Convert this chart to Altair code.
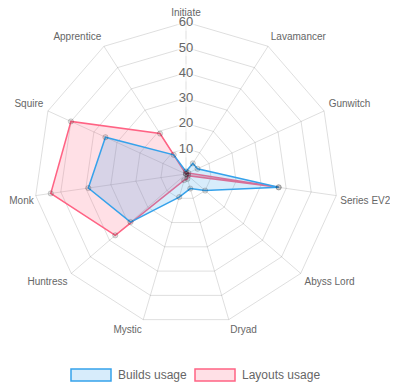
import altair as alt
import pandas as pd

categories = ["Initiate", "Lavamancer", "Gunwitch", "Series EV2", "Abyss Lord",
              "Dryad", "Mystic", "Huntress", "Monk", "Squire", "Apprentice"]
builds_usage = [1, 5, 5, 37, 10, 6, 9.5, 29, 39, 35, 9]
layouts_usage = [0, 0, 1, 37, 1, 2, 2.5, 37, 54, 50, 19]
tick_values = [10, 20, 30, 40, 50, 60]
series_names = ["Builds usage", "Layouts usage"]
line_colors = ["rgb(54,162,235)", "rgb(255,99,132)"]
fill_colors = ["rgba(54,162,235,0.2)", "rgba(255,99,132,0.2)"]

N = len(categories)
R_MAX = 60
FONT = "Liberation Sans"

# ---- data tables built from the arrays ----
rows = []
for name, vals in zip(series_names, [builds_usage, layouts_usage]):
    for i in range(N + 1):
        j = i % N
        rows.append({"series": name, "category": categories[j], "idx": i, "value": vals[j]})
series_df = pd.DataFrame(rows)

grid_rows = []
for t in tick_values:
    for i in range(N + 1):
        grid_rows.append({"tick": t, "idx": i})
grid_df = pd.DataFrame(grid_rows)

spoke_df = pd.DataFrame({"idx": list(range(N)), "r": [R_MAX] * N})
cat_df = pd.DataFrame({"category": categories, "idx": list(range(N)), "r": [R_MAX + 2] * N})
tick_df = pd.DataFrame({"tick": tick_values, "label": [str(t) for t in tick_values]})

ang = "2*PI*datum.idx/%d" % N

W, H = 382, 374
k = 2.53
cx, cy = 178, 166
xdom = [-cx / k, (W - cx) / k]
ydom = [-(H - cy) / k, cy / k]
xs = alt.Scale(domain=xdom, nice=False, zero=False)
ys = alt.Scale(domain=ydom, nice=False, zero=False)

X = lambda f: alt.X(f, type="quantitative", scale=xs, axis=None)
Y = lambda f: alt.Y(f, type="quantitative", scale=ys, axis=None)

grid = alt.Chart(grid_df).transform_calculate(
    gx=f"datum.tick*sin({ang})", gy=f"datum.tick*cos({ang})"
).mark_line(color="rgba(0,0,0,0.13)", strokeWidth=1).encode(
    x=X("gx"), y=Y("gy"), detail="tick:N", order="idx:Q"
)

spokes = alt.Chart(spoke_df).transform_calculate(
    x0="0", y0="0", x1=f"datum.r*sin({ang})", y1=f"datum.r*cos({ang})"
).mark_rule(color="rgba(0,0,0,0.13)", strokeWidth=1).encode(
    x=X("x0"), y=Y("y0"), x2="x1:Q", y2="y1:Q"
)

fill_scale = alt.Scale(domain=series_names, range=fill_colors)
stroke_scale = alt.Scale(domain=series_names, range=line_colors)
legend = alt.Legend(
    title=None, orient="none", legendX=62, legendY=346, direction="horizontal",
    symbolType="M-1,-0.3H1V0.3H-1Z", symbolSize=1600, symbolStrokeWidth=1.5,
    labelFont=FONT, labelFontSize=12, labelColor="#666", labelOffset=6,
    columnPadding=5, padding=0,
)

areas = alt.Chart(series_df).transform_calculate(
    px=f"datum.value*sin({ang})", py=f"datum.value*cos({ang})"
).mark_line(strokeWidth=1.5, strokeJoin="miter").encode(
    x=X("px"), y=Y("py"),
    fill=alt.Fill("series:N", scale=fill_scale, legend=legend, sort=series_names),
    stroke=alt.Stroke("series:N", scale=stroke_scale, legend=legend, sort=series_names),
    detail="series:N",
    order="idx:Q",
)

layer_red = areas.transform_filter("datum.series == 'Layouts usage'")
layer_blue = areas.transform_filter("datum.series == 'Builds usage'")

points = alt.Chart(series_df).transform_filter("datum.idx < %d" % N).transform_calculate(
    px=f"datum.value*sin({ang})", py=f"datum.value*cos({ang})"
).mark_point(filled=True, size=28, fill="rgba(0,0,0,0.12)", stroke="rgba(0,0,0,0.15)",
             strokeWidth=1, opacity=1).encode(x=X("px"), y=Y("py"))

tick_bg = alt.Chart(tick_df).transform_calculate(tx="0").mark_square(
    size=300, color="rgba(255,255,255,0.75)", filled=True
).encode(x=X("tx"), y=Y("tick"))

tick_text = alt.Chart(tick_df).transform_calculate(tx="0").mark_text(
    font=FONT, fontSize=13, color="#666", align="center", baseline="middle"
).encode(x=X("tx"), y=Y("tick"), text="label:N")

def cat_layer(filt, align, baseline, dx=0, dy=0):
    return alt.Chart(cat_df).transform_calculate(
        lx=f"datum.r*sin({ang})", ly=f"datum.r*cos({ang})",
        s=f"sin({ang})", c=f"cos({ang})"
    ).transform_filter(filt).mark_text(
        font=FONT, fontSize=10, color="#666", align=align, baseline=baseline, dx=dx, dy=dy
    ).encode(x=X("lx"), y=Y("ly"), text="category:N")

cat_labels = [
    cat_layer("abs(datum.s) < 0.05", "center", "bottom", dy=1),
    cat_layer("datum.s >= 0.05 && datum.c >= 0", "left", "bottom"),
    cat_layer("datum.s >= 0.05 && datum.s < 0.95 && datum.c < 0", "left", "top"),
    cat_layer("datum.s >= 0.95 && datum.c < 0", "left", "top", dx=-1),
    cat_layer("datum.s <= -0.05 && datum.c >= 0", "right", "bottom"),
    cat_layer("datum.s <= -0.05 && datum.s > -0.95 && datum.c < 0", "right", "top"),
    cat_layer("datum.s <= -0.95 && datum.c < 0", "right", "top", dx=3),
]

chart = alt.layer(
    grid, spokes, layer_red, layer_blue, points, tick_bg, tick_text, *cat_labels
).properties(
    width=W, height=H, padding=0, autosize=alt.AutoSizeParams(type="none")
).configure_view(stroke=None).configure_legend(padding=0)

chart.save("out.html", embed_options={"renderer": "svg", "actions": False})
